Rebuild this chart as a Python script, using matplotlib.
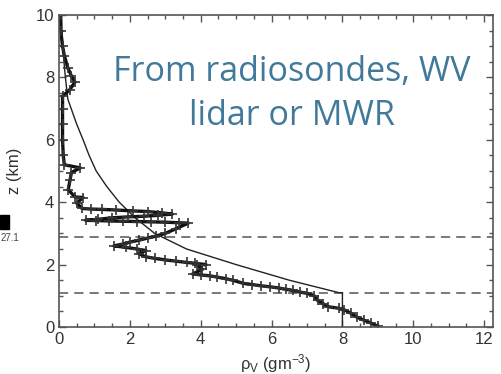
import matplotlib
matplotlib.use("Agg")
import matplotlib.pyplot as plt
from matplotlib.patches import Rectangle
from matplotlib.ticker import MultipleLocator

rho_obs = [9.0, 8.8, 8.6, 8.4, 8.24, 8.05, 7.9, 7.6, 7.45, 7.3, 7.2, 7.0, 6.8, 6.6, 6.4,
           6.2, 5.95, 5.7, 5.45, 5.2, 4.9, 4.7, 4.47, 4.25, 4.0, 3.77, 4.05, 3.9, 4.15,
           3.85, 3.6, 3.3, 3.0, 2.7, 2.45, 2.25, 2.45, 2.2, 1.9, 1.55, 1.8, 2.0, 2.25,
           2.5, 2.75, 3.0, 3.3, 3.65, 3.4, 3.0, 2.6, 2.2, 1.8, 1.4, 1.05, 0.75, 1.1,
           1.5, 1.95, 2.4, 2.8, 3.2, 2.9, 2.5, 2.1, 1.6, 1.2, 0.9, 0.65, 0.5, 0.68,
           0.45, 0.26, 0.31, 0.35, 0.6, 0.15, 0.12, 0.1, 0.1, 0.1, 0.1, 0.3, 0.45,
           0.35, 0.25, 0.15, 0.1, 0.05, 0.05]
z_obs = [0.02, 0.13, 0.22, 0.32, 0.44, 0.55, 0.6, 0.65, 0.75, 0.85, 1.0, 1.08, 1.12, 1.17,
         1.21, 1.25, 1.29, 1.32, 1.36, 1.4, 1.5, 1.55, 1.6, 1.64, 1.67, 1.7, 1.85, 1.99,
         2.0, 2.04, 2.07, 2.11, 2.15, 2.2, 2.25, 2.35, 2.45, 2.5, 2.55, 2.6, 2.66, 2.72,
         2.78, 2.85, 2.92, 3.0, 3.15, 3.33, 3.34, 3.36, 3.37, 3.38, 3.39, 3.4, 3.41, 3.42,
         3.45, 3.5, 3.53, 3.55, 3.58, 3.62, 3.66, 3.7, 3.72, 3.75, 3.77, 3.78, 3.8, 3.97,
         4.15, 4.17, 4.4, 4.7, 4.95, 5.1, 5.2, 5.5, 6.0, 6.5, 7.0, 7.4, 7.6, 7.85,
         8.05, 8.3, 8.7, 9.0, 9.5, 10.0]

# model profile (thin line)
rho_model = [8.0, 8.0, 7.9, 6.5, 5.0, 3.6, 2.7, 2.15, 1.7, 1.35, 1.05, 0.85, 0.68, 0.5,
             0.25, 0.18, 0.1, 0.06]
z_model = [0.0, 1.1, 1.1, 1.5, 2.0, 2.5, 3.0, 3.5, 4.0, 4.5, 5.0, 5.5, 6.0, 6.5,
           7.3, 8.0, 9.0, 10.0]

layer_tops = [1.1, 2.9]

plt.rcParams["font.family"] = ["Liberation Sans", "DejaVu Sans"]
plt.rcParams["mathtext.fontset"] = "custom"
plt.rcParams["mathtext.rm"] = "Liberation Sans"
plt.rcParams["mathtext.it"] = "Liberation Sans"

fig = plt.figure(figsize=(5.02, 3.74), dpi=100)
ax = fig.add_axes([59 / 502, 1 - 327 / 374, 434 / 502, 312 / 374])

spine_col = "#555555"
for z in layer_tops:
    ax.axhline(z, color="#555555", lw=1.1, dashes=(6, 4))

ax.plot(rho_model, z_model, color="#222222", lw=1.0)
ax.plot(rho_obs, z_obs, color="#111111", lw=2.4, marker="+", ms=7, mew=1.2,
        mec="#333333")

ax.set_xlim(0, 12.25)
ax.set_ylim(0, 10)
ax.xaxis.set_major_locator(MultipleLocator(2))
ax.xaxis.set_minor_locator(MultipleLocator(0.5))
ax.yaxis.set_major_locator(MultipleLocator(2))
ax.yaxis.set_minor_locator(MultipleLocator(0.5))
ax.tick_params(which="both", direction="in", top=True, right=True,
               color=spine_col, labelcolor="#333333", labelsize=12, width=1)
ax.tick_params(which="major", length=5)
ax.tick_params(which="minor", length=3)
for s in ax.spines.values():
    s.set_color(spine_col)
    s.set_linewidth(1.2)

ax.set_xlabel(r"$\rho_V$ (gm$^{-3}$)", fontsize=12, color="#333333", labelpad=4)
ax.set_ylabel("z (km)", fontsize=12, color="#333333", labelpad=10)

# overlay caption from the slide
fig.text(292 / 502, 1 - 94 / 374, "From radiosondes, WV\nlidar or MWR",
         ha="center", va="center", multialignment="center", fontsize=24.5,
         color="#41799A", family=["Open Sans", "DejaVu Sans"], linespacing=1.35)

fig.patches.append(Rectangle((0, 1 - 229 / 374), 9 / 502, 14 / 374,
                             transform=fig.transFigure, color="black"))
fig.text(1 / 502, 1 - 238 / 374, "27.1", fontsize=7, color="#444444",
         ha="left", va="center")

fig.savefig("out.png", dpi=100)
